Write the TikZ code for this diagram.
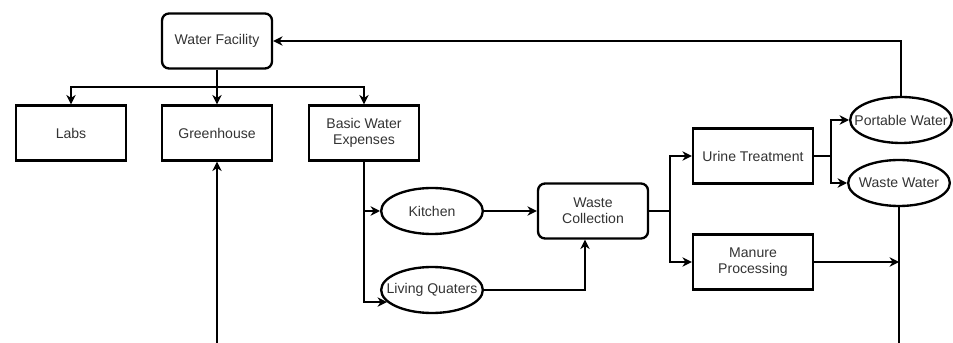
\documentclass[tikz,border=0pt]{standalone}
\usepackage{fontspec}
\setmainfont{Liberation Sans}
\usetikzlibrary{arrows, arrows.meta}
\usetikzlibrary{shapes.geometric}

% text that may stick out of its ellipse
\newcommand{\wide}[1]{\makebox[0pt]{#1}}

\tikzset{
  every node/.style={font=\fontsize{12}{14}\selectfont, text=black!80, align=center},
  box/.style={rectangle, draw, line width=2pt, minimum width=3.3cm, minimum height=1.65cm, inner sep=0pt},
  roundbox/.style={box, rounded corners=6pt},
  blob/.style={ellipse, draw, line width=2pt, minimum width=3.05cm, minimum height=1.38cm, inner sep=0pt},
  link/.style={line width=2pt},
  arr/.style={link, -{Stealth[length=8pt, width=8pt, inset=2.5pt]}}
}

\begin{document}
\begin{tikzpicture}[x=0.03cm, y=-0.03cm]
      \useasboundingbox (0,0) rectangle (953,343);

      \node[roundbox] (wf) at (217,41) {Water Facility};
      \node[box] (labs) at (71,133) {Labs};
      \node[box] (gh) at (217,133) {Greenhouse};
      \node[box] (bwe) at (364,133) {Basic Water\\Expenses};
      \node[blob] (kitchen) at (432,211) {\wide{Kitchen}};
      \node[blob] (lq) at (432,290) {\wide{Living Quaters}};
      \node[roundbox] (wc) at (593,211) {Waste\\Collection};
      \node[box, minimum width=3.6cm] (ut) at (753,156) {Urine Treatment};
      \node[box, minimum width=3.6cm] (mp) at (753,262) {Manure\\Processing};
      \node[blob] (pw) at (901,120) {\wide{Portable Water}};
      \node[blob] (ww) at (899,183) {\wide{Waste Water}};

      \coordinate (split1) at (217,87);
      \coordinate (split2) at (670,211);
      \coordinate (split3) at (831,156);
      \coordinate (endgh) at (217,343);
      \coordinate (endww) at (ww.south |- 0,343);

      \draw[link] (wf) -- (split1);
      \draw[arr] (split1) -| (labs.north);
      \draw[arr] (split1) -- (gh);
      \draw[arr] (split1) -| (bwe.north);

      \draw[arr] (bwe.south) |- (kitchen.west);
      \draw[arr] (bwe.south) |- (lq.195);
      \draw[arr] (kitchen) -- (wc);
      \draw[arr] (lq.east) -| ([xshift=-0.24cm]wc.south);

      \draw[link] (wc.east) -- (split2);
      \draw[arr] (split2) |- (ut.west);
      \draw[arr] (split2) |- (mp.west);
      \draw[link] (ut.east) -- (split3);
      \draw[arr] (split3) |- (pw.west);
      \draw[arr] (split3) |- (ww.west);

      \draw[arr] (pw.north) |- (wf.east);
      \draw[link] (ww.south) -- (endww);
      \draw[arr] (mp.east) -- (mp.east -| ww.south);
      \draw[arr] (endgh) -- (gh.south);
    \end{tikzpicture}
\end{document}
